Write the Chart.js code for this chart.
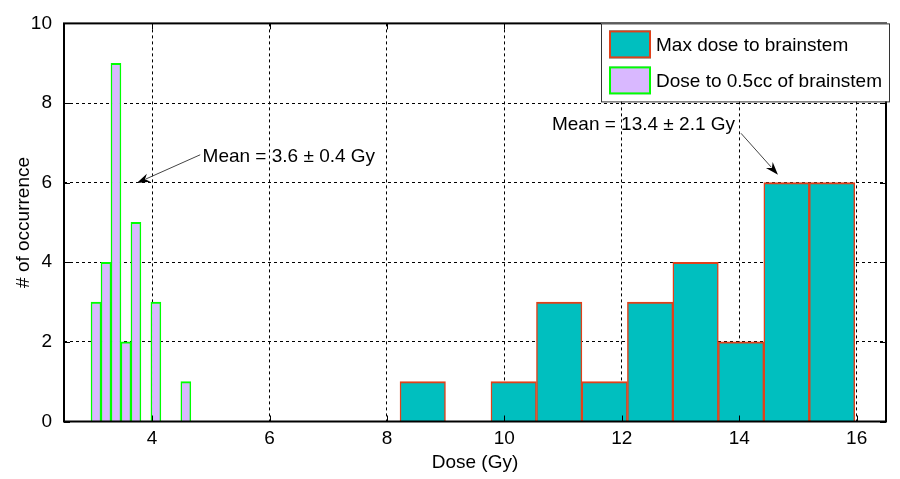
<!DOCTYPE html>
<html>
<head>
<meta charset="utf-8">
<script src="https://cdn.jsdelivr.net/npm/chart.js@4.4.0/dist/chart.umd.min.js"></script>
<style>
    html, body { margin: 0; padding: 0; background: #fff; }
</style>
</head>
<body>
<canvas id="chart" width="900" height="479"></canvas>
<script>
// Histogram bins (centres in Gy) and counts.
const maxDoseCenters = [8.610, 9.385, 10.159, 10.934, 11.708, 12.483, 13.257, 14.032, 14.806, 15.581];
const maxDoseCounts  = [1, 0, 1, 3, 1, 3, 4, 2, 6, 6];
const ccDoseCenters  = [3.045, 3.215, 3.385, 3.555, 3.725, 3.895, 4.065, 4.235, 4.405, 4.575];
const ccDoseCounts   = [3, 4, 9, 2, 5, 0, 3, 0, 0, 1];

const seriesLabels = ['Max dose to brainstem', 'Dose to 0.5cc of brainstem'];
const xTicks = [4, 6, 8, 10, 12, 14, 16];
const yTicks = [0, 2, 4, 6, 8, 10];

// Text annotations with arrows, in data units.
const notes = [
    { text: 'Mean = 3.6 \u00b1 0.4 Gy',  x: 4.86,  y: 6.53, fromX: 4.82,  fromY: 6.70, tipX: 3.74,  tipY: 5.99 },
    { text: 'Mean = 13.4 \u00b1 2.1 Gy', x: 10.81, y: 7.31, fromX: 14.03, fromY: 7.24, tipX: 14.66, tipY: 6.20 }
];

const COLORS = {
    maxFill:  '#00bfbf',
    maxEdge:  '#e0401a',
    ccFill:   '#d9b8ff',
    ccEdge:   '#00ff00'
};

const FONT = "'Liberation Sans', Arial, sans-serif";
Chart.defaults.font.family = FONT;
Chart.defaults.font.size = 19;
Chart.defaults.color = '#000';

const toPoints = (centers, counts) => centers.map((c, i) => ({ x: c, y: counts[i] }));

// Frame, inner tick marks, legend box and the arrows.
const decor = {
    id: 'decor',
    afterDatasetsDraw(chart) {
        const { ctx, chartArea: a, scales: { x, y } } = chart;
        ctx.save();
        ctx.strokeStyle = '#000';
        ctx.lineWidth = 1;
        ctx.beginPath();
        xTicks.forEach(v => {
            const px = Math.round(x.getPixelForValue(v)) + 0.5;
            ctx.moveTo(px, a.bottom); ctx.lineTo(px, a.bottom - 6);
            ctx.moveTo(px, a.top);    ctx.lineTo(px, a.top + 6);
        });
        yTicks.forEach(v => {
            const py = Math.round(y.getPixelForValue(v)) + 0.5;
            ctx.moveTo(a.left, py);  ctx.lineTo(a.left + 6, py);
            ctx.moveTo(a.right, py); ctx.lineTo(a.right - 6, py);
        });
        ctx.stroke();
        ctx.lineWidth = 2;
        ctx.strokeRect(a.left, a.top, a.right - a.left, a.bottom - a.top);
        ctx.restore();
    },
    afterDraw(chart) {
        const { ctx, chartArea: a, scales: { x, y } } = chart;
        const sets = chart.data.datasets;
        ctx.save();
        ctx.font = '19px ' + FONT;

        // legend, top right corner of the axes
        const textW = Math.max(...sets.map(d => ctx.measureText(d.label).width));
        const boxW = 8 + 42 + 5 + textW + 7;
        const left = a.right + 3 - boxW, top = a.top;
        ctx.fillStyle = '#fff';
        ctx.fillRect(left, top, boxW, 78);
        ctx.strokeStyle = '#333';
        ctx.lineWidth = 1;
        ctx.strokeRect(left + 0.5, top + 0.5, boxW, 78);
        sets.forEach((d, i) => {
            const sy = top + 7 + i * 36;
            ctx.fillStyle = d.backgroundColor;
            ctx.fillRect(left + 8, sy, 42, 28);
            ctx.strokeStyle = d.borderColor;
            ctx.lineWidth = 2;
            ctx.strokeRect(left + 9, sy + 1, 40, 26);
            ctx.fillStyle = '#000';
            ctx.textBaseline = 'middle';
            ctx.fillText(d.label, left + 55, sy + 15);
        });

        // annotations
        ctx.textBaseline = 'alphabetic';
        notes.forEach(n => {
            ctx.fillStyle = '#000';
            ctx.fillText(n.text, x.getPixelForValue(n.x), y.getPixelForValue(n.y));
            const x0 = x.getPixelForValue(n.fromX), y0 = y.getPixelForValue(n.fromY);
            const x1 = x.getPixelForValue(n.tipX),  y1 = y.getPixelForValue(n.tipY);
            const ang = Math.atan2(y1 - y0, x1 - x0);
            ctx.strokeStyle = '#444';
            ctx.lineWidth = 1;
            ctx.beginPath();
            ctx.moveTo(x0, y0);
            ctx.lineTo(x1 - 10 * Math.cos(ang), y1 - 10 * Math.sin(ang));
            ctx.stroke();
            ctx.fillStyle = '#000';
            ctx.beginPath();
            ctx.moveTo(x1, y1);
            ctx.lineTo(x1 - 13 * Math.cos(ang) + 4.5 * Math.sin(ang), y1 - 13 * Math.sin(ang) - 4.5 * Math.cos(ang));
            ctx.lineTo(x1 - 9 * Math.cos(ang), y1 - 9 * Math.sin(ang));
            ctx.lineTo(x1 - 13 * Math.cos(ang) - 4.5 * Math.sin(ang), y1 - 13 * Math.sin(ang) + 4.5 * Math.cos(ang));
            ctx.closePath();
            ctx.fill();
        });
        ctx.restore();
    }
};

const barStyle = {
    borderWidth: { top: 2, left: 1.5, right: 1.5, bottom: 0 },
    barPercentage: 1,
    categoryPercentage: 1,
    grouped: false
};

const gridStyle = { color: '#000', lineWidth: 1, drawTicks: false, offset: false };

new Chart(document.getElementById('chart'), {
    type: 'bar',
    data: {
        datasets: [
            Object.assign({
                label: seriesLabels[0],
                xAxisID: 'x',
                data: toPoints(maxDoseCenters, maxDoseCounts),
                backgroundColor: COLORS.maxFill,
                borderColor: COLORS.maxEdge
            }, barStyle),
            Object.assign({
                label: seriesLabels[1],
                xAxisID: 'x2',
                data: toPoints(ccDoseCenters, ccDoseCounts),
                backgroundColor: COLORS.ccFill,
                borderColor: COLORS.ccEdge
            }, barStyle)
        ]
    },
    options: {
        responsive: false,
        animation: false,
        devicePixelRatio: 1,
        layout: { padding: { top: 15, right: 14, bottom: 0, left: 0 } },
        plugins: {
            legend: { display: false },
            tooltip: { enabled: false }
        },
        scales: {
            x: {
                type: 'linear',
                min: 2.5,
                max: 16.5,
                offset: false,
                grid: gridStyle,
                border: { display: false, dash: [3, 3] },
                ticks: { padding: 6 },
                afterBuildTicks: s => { s.ticks = xTicks.map(v => ({ value: v })); },
                afterFit: s => { s.height = 57.5; },
                title: { display: true, text: 'Dose (Gy)', padding: { top: 0, bottom: 5 } }
            },
            x2: {
                type: 'linear',
                min: 2.5,
                max: 16.5,
                offset: false,
                display: false,
                grid: { offset: false }
            },
            y: {
                type: 'linear',
                min: 0,
                max: 10,
                grid: gridStyle,
                border: { display: false, dash: [3, 3] },
                ticks: { padding: 12 },
                afterBuildTicks: s => { s.ticks = yTicks.map(v => ({ value: v })); },
                afterFit: s => { s.width = 64; },
                title: { display: true, text: '# of occurrence', padding: { top: 12, bottom: 0 } }
            }
        }
    },
    plugins: [decor]
});
</script>
</body>
</html>
